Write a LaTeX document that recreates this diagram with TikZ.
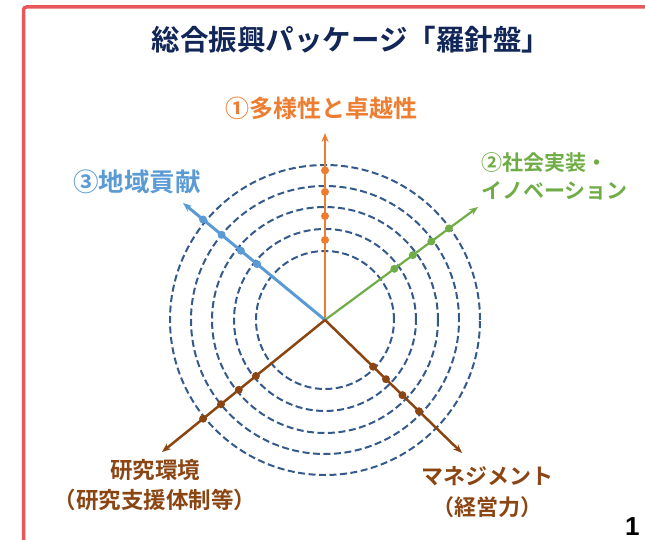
\documentclass[tikz,border=0pt]{standalone}
\usepackage{fontspec}
\newfontfamily\jp{Noto Sans CJK JP}[BoldFont={* Bold}]
\newfontfamily\lsans{Liberation Sans}
\usetikzlibrary{arrows.meta}
\definecolor{cOrange}{RGB}{237,125,49}
\definecolor{cGreen}{RGB}{112,173,71}
\definecolor{cBlue}{RGB}{91,155,213}
\definecolor{cBrown}{RGB}{139,69,19}
\definecolor{cNavy}{RGB}{18,38,88}
\definecolor{cRing}{RGB}{52,90,140}
\definecolor{cRed}{RGB}{232,88,88}
\tikzset{
  ring/.style={circle, draw=cRing, line width=2pt, dash pattern=on 7pt off 3.5pt, inner sep=0pt},
  axisline/.style={line width=2.2pt, -{Stealth[length=9pt,width=7pt]}},
  dot/.style={circle, fill, inner sep=0pt, minimum size=8pt},
  lbl/.style={font=\jp\bfseries, inner sep=0pt},
}
\begin{document}
\begin{tikzpicture}[x=1pt,y=-1pt]
\useasboundingbox (0,0) rectangle (645,540);
% border
\draw[cRed, line width=3.5pt, rounded corners=3pt] (23.5,560) -- (23.5,7) -- (660,7);
% title
\node[lbl, text=cNavy, font=\jp\bfseries\fontsize{28.5}{30}\selectfont] (title) at (351,40) {総合振興パッケージ「羅針盤」};
% center
\coordinate (O) at (325,320);
% rings
\foreach \r/\n in {69/1,91/2,113/3,134/4,155/5}{
  \node[ring, minimum size=2*\r] (ring\n) at (O) {};
}
% axis tips
\coordinate (tOr) at (325,133);
\coordinate (tGr) at (478,207);
\coordinate (tBl) at (183,203);
\coordinate (tBL) at (162,452);
\coordinate (tBR) at (462,453);
% axes
\draw[axisline, cOrange] (O) -- (tOr)
  node[dot,pos=0.428]{} node[dot,pos=0.556]{} node[dot,pos=0.685]{} node[dot,pos=0.80]{};
\draw[axisline, cGreen] (O) -- (tGr)
  node[dot,pos=0.453]{} node[dot,pos=0.574]{} node[dot,pos=0.695]{} node[dot,pos=0.81]{};
\draw[axisline, cBlue, line width=3pt] (O) -- (tBl)
  node[dot,pos=0.478]{} node[dot,pos=0.592]{} node[dot,pos=0.728]{} node[dot,pos=0.859]{};
\draw[axisline, cBrown, line width=2.5pt] (O) -- (tBL)
  node[dot,pos=0.424]{} node[dot,pos=0.529]{} node[dot,pos=0.638]{} node[dot,pos=0.748]{};
\draw[axisline, cBrown, line width=2.5pt] (O) -- (tBR)
  node[dot,pos=0.351]{} node[dot,pos=0.445]{} node[dot,pos=0.565]{} node[dot,pos=0.686]{};
% labels
\node[lbl, text=cOrange, font=\jp\bfseries\fontsize{24}{28}\selectfont] (lOr) at (321,108) {①多様性と卓越性};
\node[lbl, text=cGreen, font=\jp\bfseries\fontsize{21}{28}\selectfont, align=left, anchor=west] (lGr) at (481,176) {②社会実装・\\イノベーション};
\node[lbl, text=cBlue, font=\jp\bfseries\fontsize{25.5}{28}\selectfont, anchor=west] (lBl) at (73,182) {③地域貢献};
\node[lbl, text=cBrown, font=\jp\bfseries\fontsize{22.5}{30}\selectfont, align=center] (lBL) at (155,485) {研究環境\\（研究支援体制等）};
\node[lbl, text=cBrown, font=\jp\bfseries\fontsize{22}{31}\selectfont, align=center] (lBR) at (487,492) {マネジメント\\（経営力）};
% page number
\node[font=\lsans\bfseries\fontsize{26}{28}\selectfont, inner sep=0pt, anchor=north west] (pg) at (625,517) {1};
\end{tikzpicture}
\end{document}
